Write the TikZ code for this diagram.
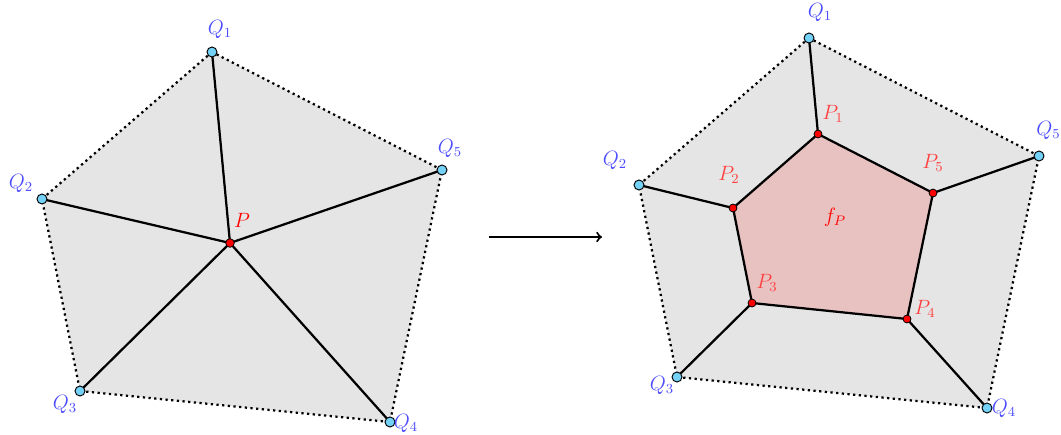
\documentclass[tikz,border=0pt]{standalone}
\begin{document}
\begin{tikzpicture}[x=0.58pt,y=-0.58pt,
  qdot/.style={circle,draw=black,fill=cyan!55!white,line width=0.55pt,inner sep=0pt,minimum size=5.8pt},
  pdot/.style={circle,draw=black,fill=red,line width=0.45pt,inner sep=0pt,minimum size=5pt},
  pdots/.style={circle,draw=black,fill=red,line width=0.45pt,inner sep=0pt,minimum size=4.6pt},
  qlab/.style={text=blue!70!white,inner sep=0pt,font=\large},
  plab/.style={text=red,inner sep=0pt,font=\large},
  prlab/.style={text=red!75!white,inner sep=0pt,font=\large},
  edge/.style={line width=1.3pt,black},
  bound/.style={line width=1.3pt,dotted,black}]
\useasboundingbox (0,0) rectangle (1061,434);
% left
\coordinate (a1) at (212,52);
\coordinate (a2) at (42,199);
\coordinate (a3) at (80,391);
\coordinate (a4) at (390,422);
\coordinate (a5) at (442,170);
\coordinate (ap) at (230,243);
\fill[gray!20] (a1)--(a2)--(a3)--(a4)--(a5)--cycle;
\draw[bound] (a1)--(a2)--(a3)--(a4)--(a5)--cycle;
\foreach \i in {1,...,5} \draw[edge] (ap)--(a\i);
\node[pdot] (P) at (ap) {};
\node[qdot] (Q1) at (a1) {};
\node[qdot] (Q2) at (a2) {};
\node[qdot] (Q3) at (a3) {};
\node[qdot] (Q4) at (a4) {};
\node[qdot] (Q5) at (a5) {};
\node[qlab] (lQ1) at (220,29) {$Q_1$};
\node[qlab] (lQ2) at (21,183) {$Q_2$};
\node[qlab] (lQ3) at (65,404) {$Q_3$};
\node[qlab] (lQ4) at (406,423) {$Q_4$};
\node[qlab] (lQ5) at (450,148) {$Q_5$};
\node[plab] (lP) at (242,220) {$P$};
% arrow
\coordinate (ar1) at (489,237);
\coordinate (ar2) at (602,237);
\draw[line width=1.2pt,->] (ar1)--(ar2);
% right
\coordinate (b1) at (809,38);
\coordinate (b2) at (639,185);
\coordinate (b3) at (677,377);
\coordinate (b4) at (987,408);
\coordinate (b5) at (1039,156);
\coordinate (c1) at (818,134);
\coordinate (c2) at (733,208);
\coordinate (c3) at (752,303);
\coordinate (c4) at (907,319);
\coordinate (c5) at (933,193);
\fill[gray!20] (b1)--(b2)--(b3)--(b4)--(b5)--cycle;
\draw[bound] (b1)--(b2)--(b3)--(b4)--(b5)--cycle;
\fill[fill={rgb,255:red,232;green,193;blue,193}] (c1)--(c2)--(c3)--(c4)--(c5)--cycle;
\draw[edge] (c1)--(c2)--(c3)--(c4)--(c5)--cycle;
\foreach \i in {1,...,5} \draw[edge] (c\i)--(b\i);
\node[pdots] (P1) at (c1) {};
\node[pdots] (P2) at (c2) {};
\node[pdots] (P3) at (c3) {};
\node[pdots] (P4) at (c4) {};
\node[pdots] (P5) at (c5) {};
\node[qdot] (R1) at (b1) {};
\node[qdot] (R2) at (b2) {};
\node[qdot] (R3) at (b3) {};
\node[qdot] (R4) at (b4) {};
\node[qdot] (R5) at (b5) {};
\node[qlab] (lR1) at (820,12) {$Q_1$};
\node[qlab] (lR2) at (615,160) {$Q_2$};
\node[qlab] (lR3) at (662,385) {$Q_3$};
\node[qlab] (lR4) at (1004,408) {$Q_4$};
\node[qlab, anchor=west] (lR5) at (1036,130) {$Q_5$};
\node[prlab] (lP1) at (833,114) {$P_1$};
\node[prlab] (lP2) at (729,175) {$P_2$};
\node[prlab] (lP3) at (767,283) {$P_3$};
\node[prlab] (lP4) at (925,309) {$P_4$};
\node[prlab] (lP5) at (933,163) {$P_5$};
\node[plab] (lf) at (835,217) {$f_P$};
\end{tikzpicture}
\end{document}
